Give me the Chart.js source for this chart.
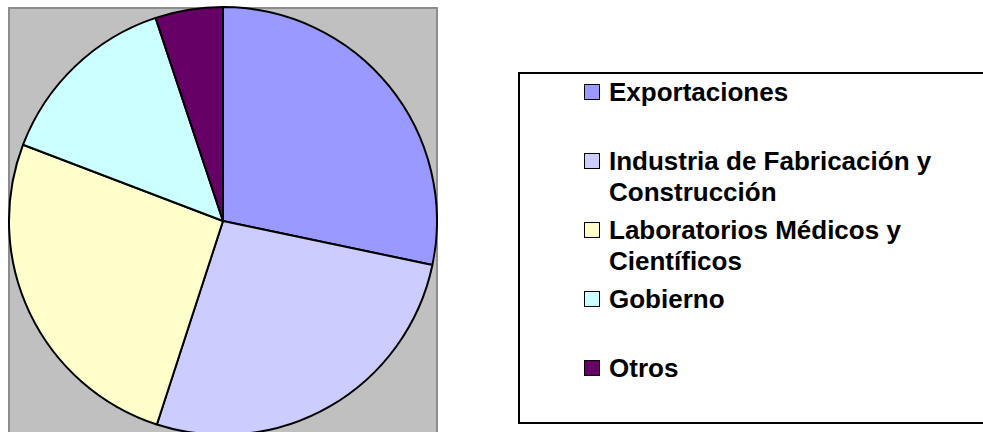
<!DOCTYPE html>
<html>
<head>
<meta charset="utf-8">
<script src="https://cdn.jsdelivr.net/npm/chart.js@4.4.0/dist/chart.umd.min.js"></script>
<style>
  html, body { margin: 0; padding: 0; background: #ffffff; overflow: hidden; width: 983px; height: 432px; }
  #plotArea {
    position: absolute; left: 8px; top: 7px; width: 430px; height: 440px;
    box-sizing: border-box; background: #c0c0c0; border: 2px solid #8c8c8c;
  }
  #pieChart { position: absolute; left: 8px; top: 6px; }
  #legendBox {
    position: absolute; left: 518px; top: 72px; width: 500px; height: 352px;
    box-sizing: border-box; border: 2px solid #000000;
  }
  .item { position: absolute; left: 0; }
  .swatch {
    position: absolute; left: 64px; top: 7px; width: 14px; height: 14px;
    border: 1.5px solid #000000;
  }
  .label {
    position: absolute; left: 89px; top: 0; width: 360px;
    font-family: "Liberation Sans", Arial, sans-serif; font-weight: bold;
    font-size: 26px; line-height: 31px; color: #000000;
  }
</style>
</head>
<body>
<div id="plotArea"></div>
<canvas id="pieChart" width="430" height="430"></canvas>
<div id="legendBox"></div>

<script>
// Datos (porcentaje aproximado de cada sector)
const categories = [
    'Exportaciones',
    'Industria de Fabricación y Construcción',
    'Laboratorios Médicos y Científicos',
    'Gobierno',
    'Otros'
];
const shares = [28.3, 26.7, 25.8, 14.1, 5.1];
const colors = ['#9999ff', '#ccccff', '#ffffcc', '#ccffff', '#660066'];

// Gráfico de pastel
const ctx = document.getElementById('pieChart').getContext('2d');
const pieChart = new Chart(ctx, {
    type: 'pie',
    data: {
        labels: categories,
        datasets: [{
            data: shares,
            backgroundColor: colors,
            borderColor: '#000000',
            borderWidth: 2
        }]
    },
    options: {
        responsive: false,
        maintainAspectRatio: false,
        animation: false,
        layout: { padding: 0 },
        plugins: {
            legend: { display: false },
            tooltip: { enabled: false }
        }
    }
});

// Leyenda a la derecha, construida con los mismos datos
const legendBox = document.getElementById('legendBox');
const itemTops = [3, 72, 141, 210, 279];
categories.forEach(function (name, i) {
    const item = document.createElement('div');
    item.className = 'item';
    item.style.top = itemTops[i] + 'px';
    const sw = document.createElement('div');
    sw.className = 'swatch';
    sw.style.background = pieChart.data.datasets[0].backgroundColor[i];
    const lb = document.createElement('div');
    lb.className = 'label';
    lb.textContent = name;
    item.appendChild(sw);
    item.appendChild(lb);
    legendBox.appendChild(item);
});
</script>
</body>
</html>
